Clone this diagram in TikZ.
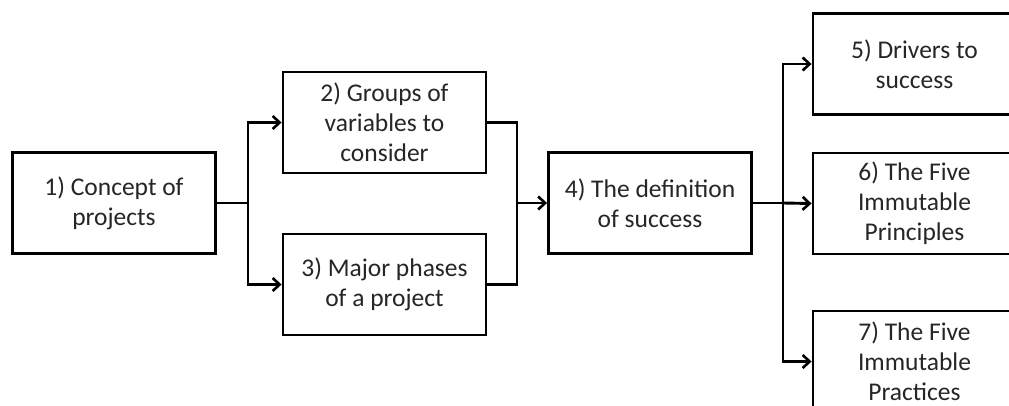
\documentclass[tikz,border=0pt]{standalone}
\usepackage{fontspec}
\setmainfont{Carlito}
\usetikzlibrary{arrows.meta}
\begin{document}
\begin{tikzpicture}[x=1pt,y=-1pt,
  stepbox/.style={draw=black,line width=2.9pt,fill=white,minimum width=203pt,
    minimum height=101pt,align=center,inner sep=0pt,text=black!85,
    font=\fontsize{25.5}{30}\selectfont},
  link/.style={line width=2.9pt},
  arr/.style={link,-{Straight Barb[length=7pt,width=13pt,line width=2.6pt]}}]
\useasboundingbox (0,0) rectangle (1009,405);
\clip (0,0) rectangle (1009,405);
% boxes
\node[stepbox] (b1) at (114,203) {1) Concept of\\projects};
\node[stepbox] (b2) at (384.5,122.5) {2) Groups of\\variables to\\consider};
\node[stepbox] (b3) at (384.5,284.5) {3) Major phases\\of a project};
\node[stepbox] (b4) at (650,203) {4) The definition\\of success};
\node[stepbox] (b5) at (914.5,64) {5) Drivers to\\success};
\node[stepbox] (b6) at (914.5,203.5) {6) The Five\\Immutable\\Principles};
\node[stepbox] (b7) at (914.5,361.5) {7) The Five\\Immutable\\Practices};
% junction points
\coordinate (j1) at (248,203);
\coordinate (j2) at (517,203);
\coordinate (j3) at (783,203);
% connectors
\draw[link] (b1.east) -- (j1);
\draw[arr] (j1) |- (b2.west);
\draw[arr] (j1) |- (b3.west);
\draw[link] (b2.east) -| (j2) |- (b3.east);
\draw[arr] (j2) -- (b4.west);
\draw[link] (b4.east) -- (j3);
\draw[arr] (j3) -- (b6.west);
\draw[arr] (j3) |- (b5.west);
\draw[arr] (j3) |- (b7.west);
\end{tikzpicture}
\end{document}
